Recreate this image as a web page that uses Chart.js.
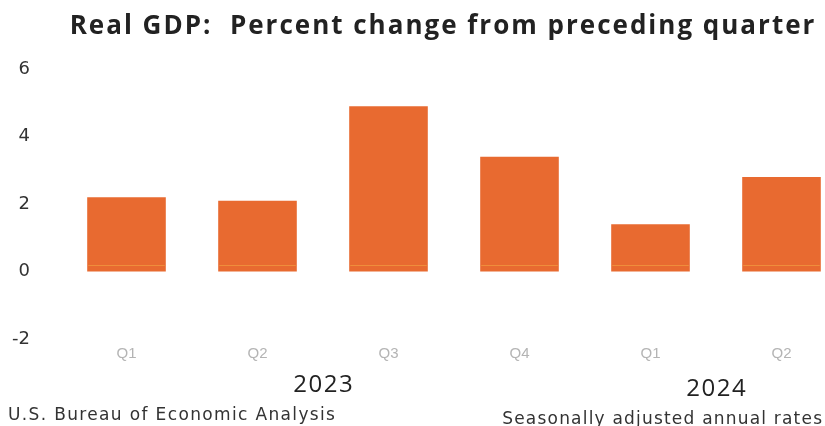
<!DOCTYPE html>
<html>
<head>
<meta charset="utf-8">
<script src="https://cdn.jsdelivr.net/npm/chart.js@4/dist/chart.umd.min.js"></script>
<style>
  html, body { margin: 0; padding: 0; background: #ffffff; overflow: hidden; }
  #wrap { width: 850px; height: 426px; }
</style>
</head>
<body>
<div id="wrap"><canvas id="c" width="850" height="426"></canvas></div>
<script>
const titleText = "Real GDP:  Percent change from preceding quarter";
const quarters = ["Q1", "Q2", "Q3", "Q4", "Q1", "Q2"];
const years = ["2023", "2024"];
const yearGroups = [[0, 1, 2, 3], [4, 5]];
const gdpChange = [2.2, 2.1, 4.9, 3.4, 1.4, 2.8];
const yTicks = [-2, 0, 2, 4, 6];
const sourceText = "U.S. Bureau of Economic Analysis";
const noteText = "Seasonally adjusted annual rates";

function spacedText(ctx, text, x, y, align, spacing) {
  ctx.letterSpacing = spacing + "px";
  const w = ctx.measureText(text).width - spacing;
  let left = x;
  if (align === "center") left = x - w / 2;
  else if (align === "right") left = x - w;
  ctx.textAlign = "left";
  ctx.fillText(text, left, y);
  ctx.letterSpacing = "0px";
}

const extraText = {
  id: "extraText",
  afterDatasetsDraw(chart) {
    const ctx = chart.ctx;
    const ys = chart.scales.y;
    const meta = chart.getDatasetMeta(0);
    ctx.save();
    ctx.strokeStyle = "rgba(245,175,70,0.5)";
    ctx.lineWidth = 1;
    const yy = Math.round(ys.getPixelForValue(0.2)) + 0.5;
    meta.data.forEach(bar => {
      const half = bar.width / 2;
      ctx.beginPath();
      ctx.moveTo(bar.x - half + 1, yy);
      ctx.lineTo(bar.x + half - 1, yy);
      ctx.stroke();
    });
    ctx.restore();
  },
  afterDraw(chart) {
    const ctx = chart.ctx;
    const xs = chart.scales.x;
    ctx.save();
    ctx.textBaseline = "middle";
    ctx.fillStyle = "#222222";
    ctx.font = "bold 26px 'Open Sans'";
    spacedText(ctx, titleText, 442, 27, "center", 2);

    ctx.font = "24px 'Open Sans'";
    const yearY = [385, 389];
    yearGroups.forEach((g, i) => {
      const a = xs.getPixelForValue(g[0]);
      const b = xs.getPixelForValue(g[g.length - 1]);
      spacedText(ctx, years[i], (a + b) / 2, yearY[i], "center", 1.5);
    });
    ctx.font = "17px 'DejaVu Sans'";
    ctx.fillStyle = "#333333";
    spacedText(ctx, sourceText, 8, 416, "left", 1.35);
    spacedText(ctx, noteText, 822, 420, "right", 1.2);
    ctx.restore();
  }
};

new Chart(document.getElementById("c"), {
  type: "bar",
  data: {
    labels: quarters,
    datasets: [{
      data: gdpChange,
      backgroundColor: "#e86a30",
      borderWidth: 0,
      barPercentage: 0.6,
      categoryPercentage: 1.0
    }]
  },
  options: {
    responsive: false,
    devicePixelRatio: 1,
    animation: false,
    layout: { padding: { top: 69, right: 3, bottom: 57, left: 0 } },
    plugins: {
      legend: { display: false },
      tooltip: { enabled: false },
      title: { display: false }
    },
    scales: {
      x: {
        grid: { display: false, drawTicks: false },
        border: { display: false },
        ticks: {
          color: "#b4b4b4",
          font: { family: "'Liberation Sans'", size: 15 },
          padding: 6
        }
      },
      y: {
        min: -2,
        max: 6,
        afterBuildTicks(scale) { scale.ticks = yTicks.map(v => ({ value: v })); },
        afterFit(scale) { scale.width = 61; },
        grid: { display: false, drawTicks: false },
        border: { display: false },
        ticks: {
          color: "#333333",
          font: { family: "'DejaVu Sans'", size: 18 },
          padding: 31
        }
      }
    }
  },
  plugins: [extraText]
});
</script>
</body>
</html>
